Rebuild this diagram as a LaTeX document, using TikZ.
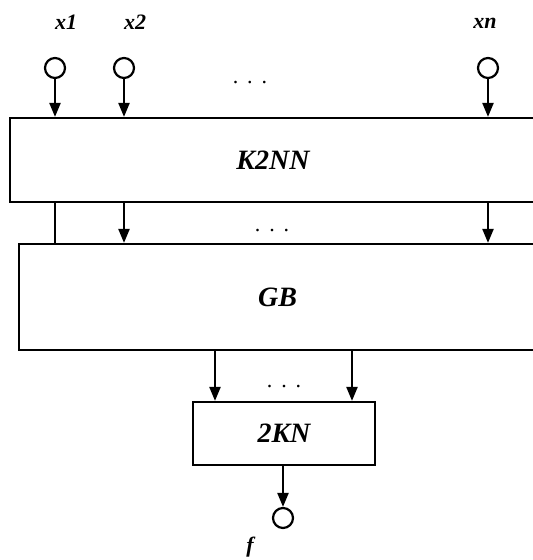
\documentclass[tikz,border=0pt]{standalone}
\usepackage{fontspec}
\setmainfont{Liberation Serif}
\usetikzlibrary{arrows.meta,positioning}

\tikzset{
  blockbox/.style={draw, line width=2.2pt, inner sep=0pt,
    font=\bfseries\itshape\fontsize{28}{32}\selectfont},
  port/.style={draw, circle, line width=2.2pt, minimum size=20pt, inner sep=0pt},
  flow/.style={line width=2.2pt, -{Triangle[length=14pt,width=11pt]}},
  link/.style={line width=2.2pt},
  lbl/.style={font=\bfseries\itshape\fontsize{22}{26}\selectfont},
  gap/.style={font=\fontsize{22}{24}\selectfont}
}

\begin{document}
\begin{tikzpicture}[x=1pt,y=-1pt]
  \useasboundingbox (0,0) rectangle (533,560);
  \clip (0,0) rectangle (533,560);

  % blocks
  \node[blockbox, minimum width=526pt, minimum height=84pt] (k2nn) at (273,160) {K2NN};
  \node[blockbox, minimum width=517pt, minimum height=106pt] (gb) at (277.5,297) {GB};
  \node[blockbox, minimum width=182pt, minimum height=63pt] (kn2) at (284,433.5) {2KN};

  % inputs and output
  \node[port] (in1) at (55,68) {};
  \node[port] (in2) at (124,68) {};
  \node[port] (inn) at (488,68) {};
  \node[port] (out) at (283,518) {};
  \node[lbl] (l1) at (66,22) {x1};
  \node[lbl] (l2) at (135,22) {x2};
  \node[lbl] (ln) at (485,23) {xn};
  \node[lbl] (lf) at (250,547) {f};

  % dots
  \node[gap] (d1) at (250,83) {.\hspace{9pt}.\hspace{9pt}.};
  \node[gap] (d2) at (272,231) {.\hspace{9pt}.\hspace{9pt}.};
  \node[gap] (d3) at (284,387) {.\hspace{9pt}.\hspace{9pt}.};

  \draw[flow] (in1) -- (in1 |- k2nn.north);
  \draw[flow] (in2) -- (in2 |- k2nn.north);
  \draw[flow] (inn) -- (inn |- k2nn.north);

  \draw[link] (k2nn.south -| in1) -- (gb.north -| in1);
  \draw[flow] (k2nn.south -| in2) -- (gb.north -| in2);
  \draw[flow] (k2nn.south -| inn) -- (gb.north -| inn);

  \coordinate (a1) at (215,0);
  \coordinate (a2) at (352,0);
  \draw[flow] (gb.south -| a1) -- (kn2.north -| a1);
  \draw[flow] (gb.south -| a2) -- (kn2.north -| a2);

  \draw[flow] (kn2.south -| out) -- (out);
\end{tikzpicture}
\end{document}
